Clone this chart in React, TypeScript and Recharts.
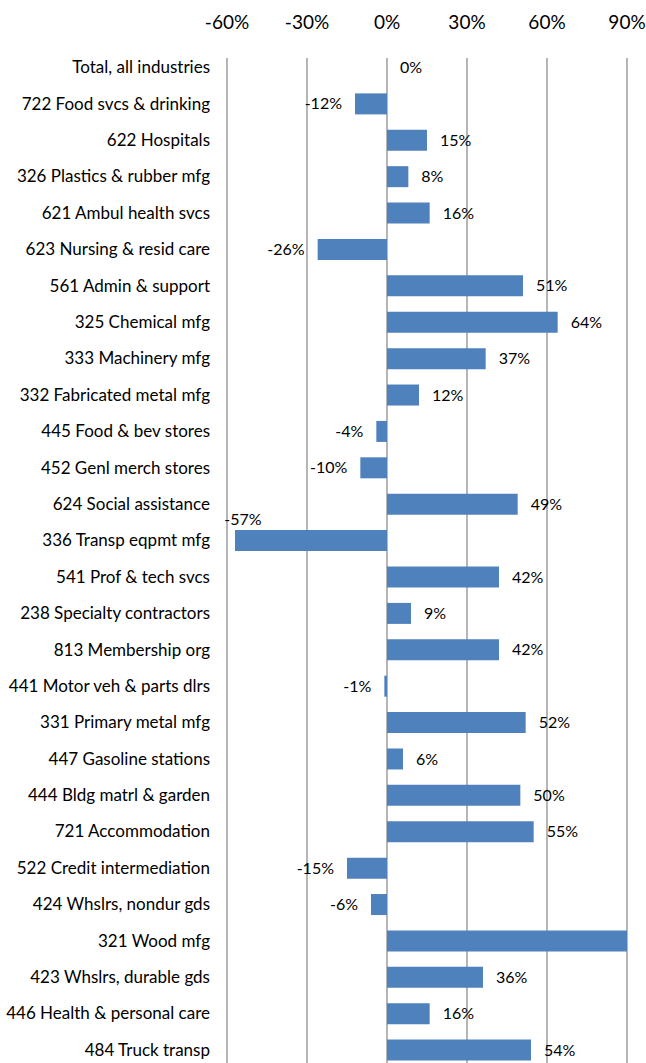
import { BarChart, Bar, XAxis, YAxis, CartesianGrid, LabelList, ReferenceDot } from 'recharts'

const industries = [
  'Total, all industries',
  '722 Food svcs & drinking',
  '622 Hospitals',
  '326 Plastics & rubber mfg',
  '621 Ambul health svcs',
  '623 Nursing & resid care',
  '561 Admin & support',
  '325 Chemical mfg',
  '333 Machinery mfg',
  '332 Fabricated metal mfg',
  '445 Food & bev stores',
  '452 Genl merch stores',
  '624 Social assistance',
  '336 Transp eqpmt mfg',
  '541 Prof & tech svcs',
  '238 Specialty contractors',
  '813 Membership org',
  '441 Motor veh & parts dlrs',
  '331 Primary metal mfg',
  '447 Gasoline stations',
  '444 Bldg matrl & garden',
  '721 Accommodation',
  '522 Credit intermediation',
  '424 Whslrs, nondur gds',
  '321 Wood  mfg',
  '423 Whslrs, durable gds',
  '446 Health & personal care',
  '484 Truck transp',
]

const change = [
  0, -12, 15, 8, 16, -26, 51, 64, 37, 12, -4, -10, 49, -57, 42, 9, 42, -1, 52, 6, 50, 55, -15, -6, 91, 36, 16, 54,
]

const xTicks = [-60, -30, 0, 30, 60, 90]

const data = industries.map((name, i) => ({ name, change: change[i] }))

const font = 'Lato, "Open Sans", sans-serif'

function ValueLabel(props: any) {
  const { x, y, width, height, value } = props
  if (value > 90) return null
  const left = Math.min(x, x + width)
  const right = Math.max(x, x + width)
  const cy = y + height / 2
  if (value < -50) {
    return (
      <text x={left + 8} y={y - 5} textAnchor="middle" fontSize={16} fontFamily={font} fill="#000">
        {value}%
      </text>
    )
  }
  const neg = value < 0
  return (
    <text
      x={neg ? left - 13 : right + 13}
      y={cy}
      dy="0.35em"
      textAnchor={neg ? 'end' : 'start'}
      fontSize={16}
      fontFamily={font}
      fill="#000"
    >
      {value}%
    </text>
  )
}

function GridLine(props: any) {
  const { x1, x2, y1, y2 } = props
  return <line x1={x1} x2={x2} y1={y1 + 9} y2={y2} stroke="#8e8e8e" strokeWidth={1.3} />
}

export default function App() {
  return (
    <div style={{ position: 'fixed', top: 0, left: 0, width: 646, height: 1063, overflow: 'hidden', background: '#fff' }}>
      <BarChart
        width={646}
        height={1076}
        data={data}
        layout="vertical"
        margin={{ top: 9, right: 19, bottom: 8, left: 0 }}
        barSize={21}
      >
        <CartesianGrid horizontal={false} vertical={GridLine} />
        <XAxis
          type="number"
          orientation="top"
          domain={[-60, 90]}
          ticks={xTicks}
          allowDataOverflow
          tickFormatter={(v) => `${v}%`}
          axisLine={false}
          tickLine={false}
          tickSize={0}
          tickMargin={20}
          height={40}
          tick={{ fontSize: 19, fill: '#000', fontFamily: font }}
        />
        <YAxis
          type="category"
          dataKey="name"
          width={227}
          axisLine={false}
          tickLine={false}
          tickSize={0}
          tickMargin={17}
          interval={0}
          tick={{ fontSize: 17, fill: '#000', fontFamily: font }}
        />
        <Bar dataKey="change" fill="#4f81bd" isAnimationActive={false}>
          <LabelList dataKey="change" content={ValueLabel} />
        </Bar>
        {data
          .filter((d) => d.change === 0)
          .map((d) => (
            <ReferenceDot
              key={d.name}
              x={0}
              y={d.name}
              r={0}
              fill="none"
              stroke="none"
              label={{ value: `${d.change}%`, position: 'right', offset: 13, fontSize: 16, fontFamily: font, fill: '#000' }}
            />
          ))}
      </BarChart>
    </div>
  )
}
